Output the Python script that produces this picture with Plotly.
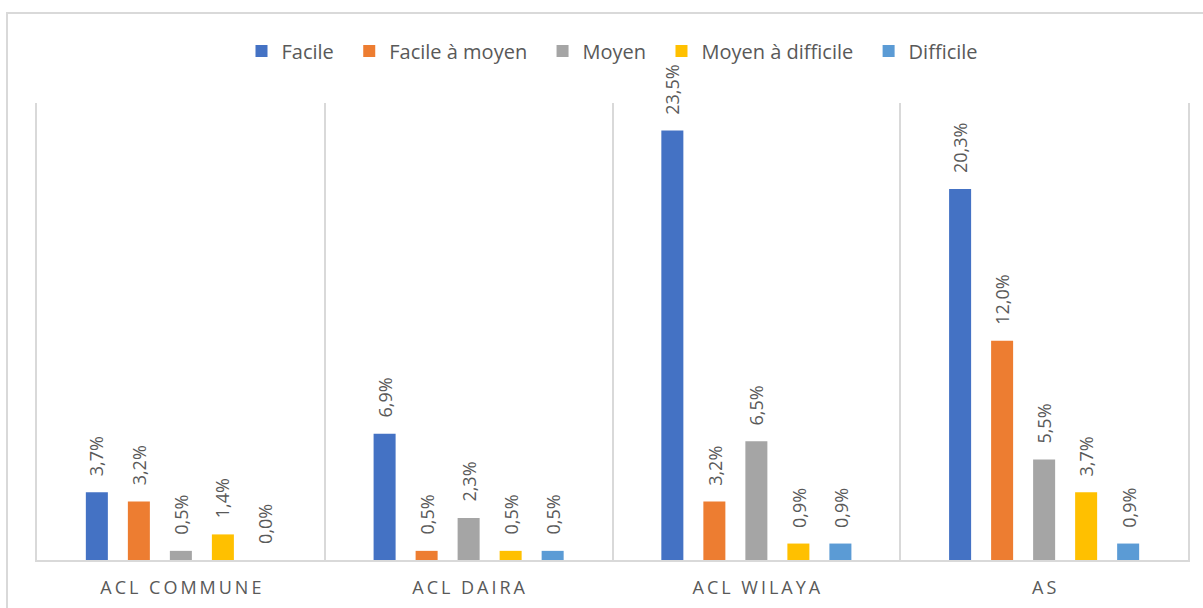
import plotly.graph_objects as go

# Catégories et séries (pourcentages)
categories = ["ACL COMMUNE", "ACL DAIRA", "ACL WILAYA", "AS"]
series_names = ["Facile", "Facile à moyen", "Moyen", "Moyen à difficile", "Difficile"]
facile = [3.7, 6.9, 23.5, 20.3]
facile_a_moyen = [3.2, 0.5, 3.2, 12.0]
moyen = [0.5, 2.3, 6.5, 5.5]
moyen_a_difficile = [1.4, 0.5, 0.9, 3.7]
difficile = [0.0, 0.5, 0.9, 0.9]

series_values = [facile, facile_a_moyen, moyen, moyen_a_difficile, difficile]
colors = ["#4472C4", "#ED7D31", "#A5A5A5", "#FFC000", "#5B9BD5"]

BARGAP = 0.27
BARGROUPGAP = 0.476
TEXT_COLOR = "#595959"
LINE_COLOR = "#D9D9D9"
FONT = "Open Sans"

W, H = 1203, 608
ML, MR, MT, MB = 37, 15, 103, 48


def fr_pct(v):
    return f"{v:.1f}".replace(".", ",") + "%"


def spaced(s):
    # espacement des lettres des étiquettes de catégorie
    return "\u2009".join(list(s))


fig = go.Figure()
n = len(series_names)
for i, (name, vals, col) in enumerate(zip(series_names, series_values, colors)):
    # espace insécable après chaque entrée de légende sauf la dernière
    legend_name = name + ("\u00a0\u00a0" if i < n - 1 else "")
    fig.add_trace(go.Bar(
        name=legend_name,
        x=categories,
        y=vals,
        marker=dict(color=col, line=dict(width=0)),
    ))

# Étiquettes de valeur verticales au-dessus des barres
slot = (1 - BARGAP) / n
for i, vals in enumerate(series_values):
    for j, v in enumerate(vals):
        fig.add_annotation(
            x=j + (i - (n - 1) / 2) * slot,
            y=v,
            xref="x", yref="y",
            text=fr_pct(v),
            textangle=-90,
            showarrow=False,
            yanchor="bottom",
            xanchor="center",
            yshift=14,
            font=dict(family=FONT, size=18, color=TEXT_COLOR),
        )

# Bordure extérieure du graphique
pw = W - ML - MR
ph = H - MT - MB
fig.add_shape(
    type="rect", xref="paper", yref="paper",
    x0=(7 - ML) / pw, x1=(W + 10 - ML) / pw,
    y0=(H - MB - (H + 10)) / ph, y1=(H - MB - 13) / ph,
    line=dict(color=LINE_COLOR, width=2),
    fillcolor="rgba(0,0,0,0)",
    layer="below",
)

fig.update_layout(
    width=W, height=H,
    margin=dict(l=ML, r=MR, t=MT, b=MB, autoexpand=False),
    paper_bgcolor="white",
    plot_bgcolor="white",
    barmode="group",
    bargap=BARGAP,
    bargroupgap=BARGROUPGAP,
    font=dict(family=FONT, color=TEXT_COLOR),
    legend=dict(
        orientation="h",
        x=0.5, xanchor="center",
        y=(H - MB - 51) / ph, yanchor="middle",
        font=dict(family=FONT, size=20, color=TEXT_COLOR),
        bgcolor="rgba(0,0,0,0)",
        itemwidth=30,
        traceorder="normal",
    ),
    xaxis=dict(
        tickmode="array",
        tickvals=categories,
        ticktext=[spaced(c) for c in categories],
        tickfont=dict(family=FONT, size=18, color=TEXT_COLOR),
        showline=True, linecolor=LINE_COLOR, linewidth=2,
        tickson="boundaries",
        showgrid=True, gridcolor=LINE_COLOR, gridwidth=2,
        ticks="", ticklabelstandoff=10,
    ),
    yaxis=dict(
        range=[0, 25],
        showticklabels=False,
        showgrid=False,
        zeroline=False,
        showline=True, mirror=True, linecolor=LINE_COLOR, linewidth=2,
        ticks="",
    ),
)

fig.write_html("out.html")
